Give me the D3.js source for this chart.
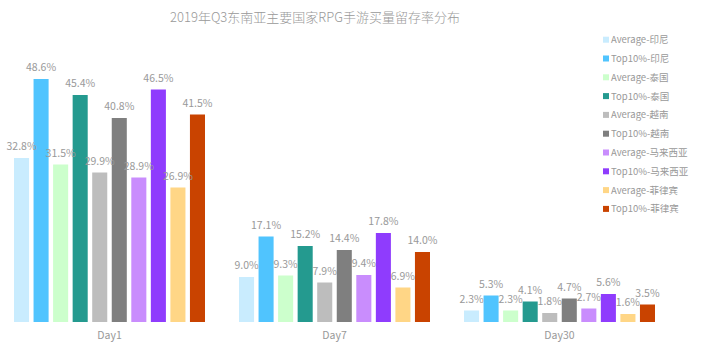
<!DOCTYPE html>
<html>
<head>
<meta charset="utf-8">
<script src="https://cdn.jsdelivr.net/npm/d3@7"></script>
<style>
  body { margin: 0; background: #fff; }
  svg text { font-family: "Noto Sans CJK SC", "Noto Sans", sans-serif; }
</style>
</head>
<body>
<div id="chart"></div>
<script>
  ///////////////////////////////// Data /////////////////////////////////
  var days = ["Day1", "Day7", "Day30"]
  var series = ["Average-印尼", "Top10%-印尼", "Average-泰国", "Top10%-泰国", "Average-越南",
                "Top10%-越南", "Average-马来西亚", "Top10%-马来西亚", "Average-菲律宾", "Top10%-菲律宾"]
  var colors = ["#c9ecfe", "#50c4fe", "#ccffcc", "#249a8f", "#bdbdbd",
                "#7f7f7f", "#c98dfd", "#8f3cfd", "#ffd686", "#c94300"]
  var day1 = [32.8, 48.6, 31.5, 45.4, 29.9, 40.8, 28.9, 46.5, 26.9, 41.5]
  var day7 = [9.0, 17.1, 9.3, 15.2, 7.9, 14.4, 9.4, 17.8, 6.9, 14.0]
  var day30 = [2.3, 5.3, 2.3, 4.1, 1.8, 4.7, 2.7, 5.6, 1.6, 3.5]
  var values = [day1, day7, day30]

  ///////////////////////////////// Setup /////////////////////////////////
  var W = 710, H = 351
  var svg = d3.select("#chart").append("svg").attr("width", W).attr("height", H)

  var x0 = d3.scaleBand().domain(days).range([-3, 672])
  var x1 = d3.scaleBand().domain(series).range([17, 208]).paddingInner(0.23).paddingOuter(0)
  var y = d3.scaleLinear().domain([0, 50]).range([322, 72])
  var color = d3.scaleOrdinal().domain(series).range(colors)

  svg.append("text")
    .attr("x", 315).attr("y", 21.5)
    .attr("text-anchor", "middle")
    .attr("font-size", 13).attr("font-weight", 300).attr("fill", "#999")
    .text("2019年Q3东南亚主要国家RPG手游买量留存率分布")

  ///////////////////////////////// Bars /////////////////////////////////
  var groups = svg.selectAll(".day").data(days).enter().append("g")
    .attr("class", "day")
    .attr("transform", function (d) { return "translate(" + x0(d) + ",0)" })

  groups.selectAll("rect")
    .data(function (d, i) { return values[i].map(function (v, j) { return {s: series[j], v: v} }) })
    .enter().append("rect")
      .attr("x", function (d) { return x1(d.s) })
      .attr("width", x1.bandwidth())
      .attr("y", function (d) { return y(d.v) })
      .attr("height", function (d) { return y(0) - y(d.v) })
      .attr("fill", function (d) { return color(d.s) })

  groups.selectAll(".lbl")
    .data(function (d, i) { return values[i].map(function (v, j) { return {s: series[j], v: v} }) })
    .enter().append("text")
      .attr("class", "lbl")
      .attr("x", function (d) { return x1(d.s) + x1.bandwidth() / 2 })
      .attr("y", function (d) { return y(d.v) - 8 })
      .attr("text-anchor", "middle")
      .attr("font-size", 10.5).attr("fill", "#999")
      .text(function (d) { return d.v.toFixed(1) + "%" })

  groups.append("text")
    .attr("x", x0.bandwidth() / 2)
    .attr("y", 339)
    .attr("text-anchor", "middle")
    .attr("font-size", 10.5).attr("fill", "#999")
    .text(function (d) { return d })

  ///////////////////////////////// Legend /////////////////////////////////
  var legend = svg.selectAll(".leg").data(series).enter().append("g")
    .attr("class", "leg")
    .attr("transform", function (d, i) { return "translate(603," + (39.7 + i * 18.8) + ")" })

  legend.append("rect")
    .attr("x", 0).attr("y", -3).attr("width", 6).attr("height", 6)
    .attr("fill", function (d) { return color(d) })

  legend.append("text")
    .attr("x", 8).attr("y", 3.5)
    .attr("font-size", 9.5).attr("fill", "#999")
    .text(function (d) { return d })
</script>
</body>
</html>
